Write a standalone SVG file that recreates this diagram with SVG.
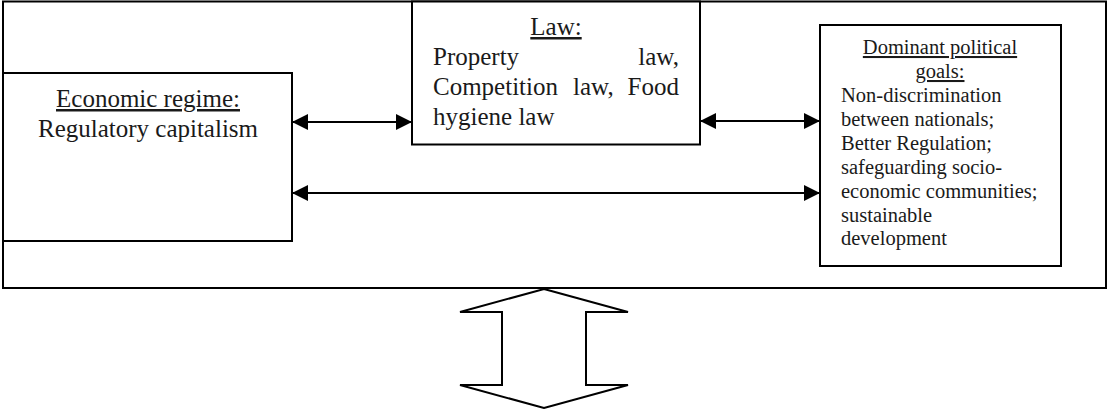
<svg xmlns="http://www.w3.org/2000/svg" width="1109" height="409" viewBox="0 0 1109 409">
<style>
.box{fill:#fff;stroke:#000;stroke-width:2}
.t{font-family:"Liberation Serif","Times New Roman",serif;fill:#1a1a1a}
.big{font-size:25px}
.sm{font-size:20.5px}
.u{text-decoration:underline}
.con{stroke:#000;stroke-width:2;fill:none}
</style>
<defs>
<marker id="ah" viewBox="0 0 16 16" refX="16" refY="8" markerWidth="16" markerHeight="16" markerUnits="userSpaceOnUse" orient="auto-start-reverse">
<path d="M0,0 L16,8 L0,16 Z" fill="#000"/>
</marker>
</defs>
<g id="frame"><rect class="box" x="3" y="1.5" width="1103" height="286.5"/></g>
<g id="economic">
<rect class="box" x="3" y="73" width="289" height="168"/>
<text class="t big u" x="148" y="107" text-anchor="middle">Economic regime:</text>
<text class="t big" x="148" y="137" text-anchor="middle">Regulatory capitalism</text>
</g>
<g id="law">
<rect class="box" x="412" y="1.5" width="288" height="143"/>
<text class="t big u" x="556" y="35" text-anchor="middle">Law:</text>
<text class="t big" x="433" y="65">Property</text>
<text class="t big" x="679" y="65" text-anchor="end">law,</text>
<text class="t big" x="433" y="95">Competition</text>
<text class="t big" x="573" y="95">law,</text>
<text class="t big" x="679" y="95" text-anchor="end">Food</text>
<text class="t big" x="433" y="125">hygiene law</text>
</g>
<g id="goals">
<rect class="box" x="820" y="25" width="241" height="241"/>
<text class="t sm u" x="940" y="54" text-anchor="middle">Dominant political</text>
<text class="t sm u" x="940" y="78" text-anchor="middle">goals:</text>
<text class="t sm" x="841" y="102">Non-discrimination</text>
<text class="t sm" x="841" y="126">between nationals;</text>
<text class="t sm" x="841" y="150">Better Regulation;</text>
<text class="t sm" x="841" y="174">safeguarding socio-</text>
<text class="t sm" x="841" y="198">economic communities;</text>
<text class="t sm" x="841" y="222">sustainable</text>
<text class="t sm" x="841" y="245">development</text>
</g>
<g id="connectors">
<line class="con" x1="292" y1="122" x2="412" y2="122" marker-start="url(#ah)" marker-end="url(#ah)"/>
<line class="con" x1="700" y1="121" x2="820" y2="121" marker-start="url(#ah)" marker-end="url(#ah)"/>
<line class="con" x1="292" y1="193" x2="820" y2="193" marker-start="url(#ah)" marker-end="url(#ah)"/>
</g>
<g id="blockarrow">
<polygon class="box" points="544,289 628,312 586,312 586,385 628,385 544,408 460,385 502,385 502,312 460,312"/>
</g>
</svg>
